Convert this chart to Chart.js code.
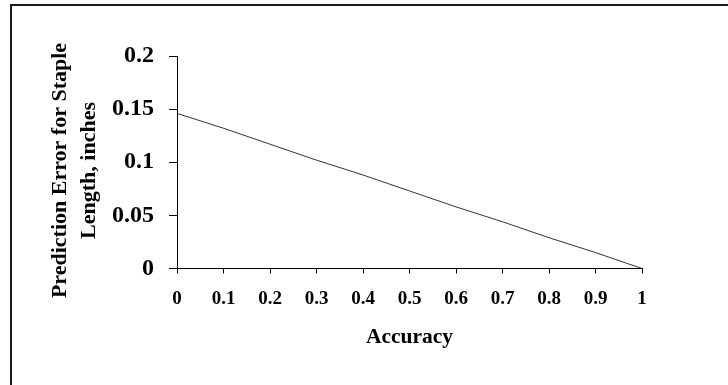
<!DOCTYPE html>
<html>
<head>
<meta charset="utf-8">
<script src="https://cdn.jsdelivr.net/npm/chart.js@4"></script>
<style>
  body { margin: 0; background: #fff; }
  #wrap { position: relative; width: 728px; height: 385px; }
  #frame { position: absolute; left: 10px; top: 4px; right: 0; bottom: 0;
           border-top: 2px solid #1a1a1a; border-left: 2px solid #1a1a1a; pointer-events: none; }
</style>
</head>
<body>
<div id="wrap">
  <canvas id="errChart" width="728" height="385"></canvas>
  <div id="frame"></div>
</div>
<script>
const accuracy = [0, 0.1, 0.2, 0.3, 0.4, 0.5, 0.6, 0.7, 0.8, 0.9, 1];
const predictionError = [0.146, 0.132, 0.117, 0.102, 0.088, 0.073, 0.058, 0.044, 0.029, 0.015, 0];

const xTitle = 'Accuracy';
// trailing spaces nudge the rotated title a little lower, like the original
const yTitle = ['Prediction Error for Staple   ', 'Length, inches   '];

const serif = 'Liberation Serif, Times New Roman, serif';
const fmt = v => String(parseFloat(Number(v).toFixed(2)));

const ctx = document.getElementById('errChart').getContext('2d');

const config = {
    type: 'line',
    data: {
        datasets: [{
            data: accuracy.map((a, i) => ({ x: a, y: predictionError[i] })),
            borderColor: '#333',
            borderWidth: 1,
            pointRadius: 0,
            tension: 0,
            fill: false
        }]
    },
    options: {
        responsive: false,
        animation: false,
        layout: { padding: { top: 56, right: 86, left: 0, bottom: 0 } },
        plugins: {
            legend: { display: false },
            tooltip: { enabled: false }
        },
        scales: {
            x: {
                type: 'linear',
                min: 0,
                max: 1,
                afterFit: s => { s.height = 116.5; },
                ticks: {
                    stepSize: 0.1,
                    color: '#000',
                    padding: 14,
                    maxRotation: 0,
                    callback: fmt,
                    font: { family: serif, size: 19, weight: 'bold' }
                },
                grid: { drawOnChartArea: false, tickLength: 5, color: '#000' },
                border: { display: true, color: '#000', width: 1 },
                title: {
                    display: true,
                    text: xTitle,
                    color: '#000',
                    padding: { top: 0, bottom: 35 },
                    font: { family: serif, size: 21.5, weight: 'bold', lineHeight: 1.2 }
                }
            },
            y: {
                min: 0,
                max: 0.2,
                afterFit: s => { s.width = 177; },
                ticks: {
                    stepSize: 0.05,
                    color: '#000',
                    padding: 15,
                    callback: fmt,
                    font: { family: serif, size: 24, weight: 'bold' }
                },
                grid: { drawOnChartArea: false, tickLength: 8, color: '#000' },
                border: { display: true, color: '#000', width: 1 },
                title: {
                    display: true,
                    text: yTitle,
                    color: '#000',
                    padding: { top: 46, bottom: 0 },
                    font: { family: serif, size: 22, weight: 'bold', lineHeight: 1.3 }
                }
            }
        }
    }
};

const errChart = new Chart(ctx, config);
</script>
</body>
</html>
